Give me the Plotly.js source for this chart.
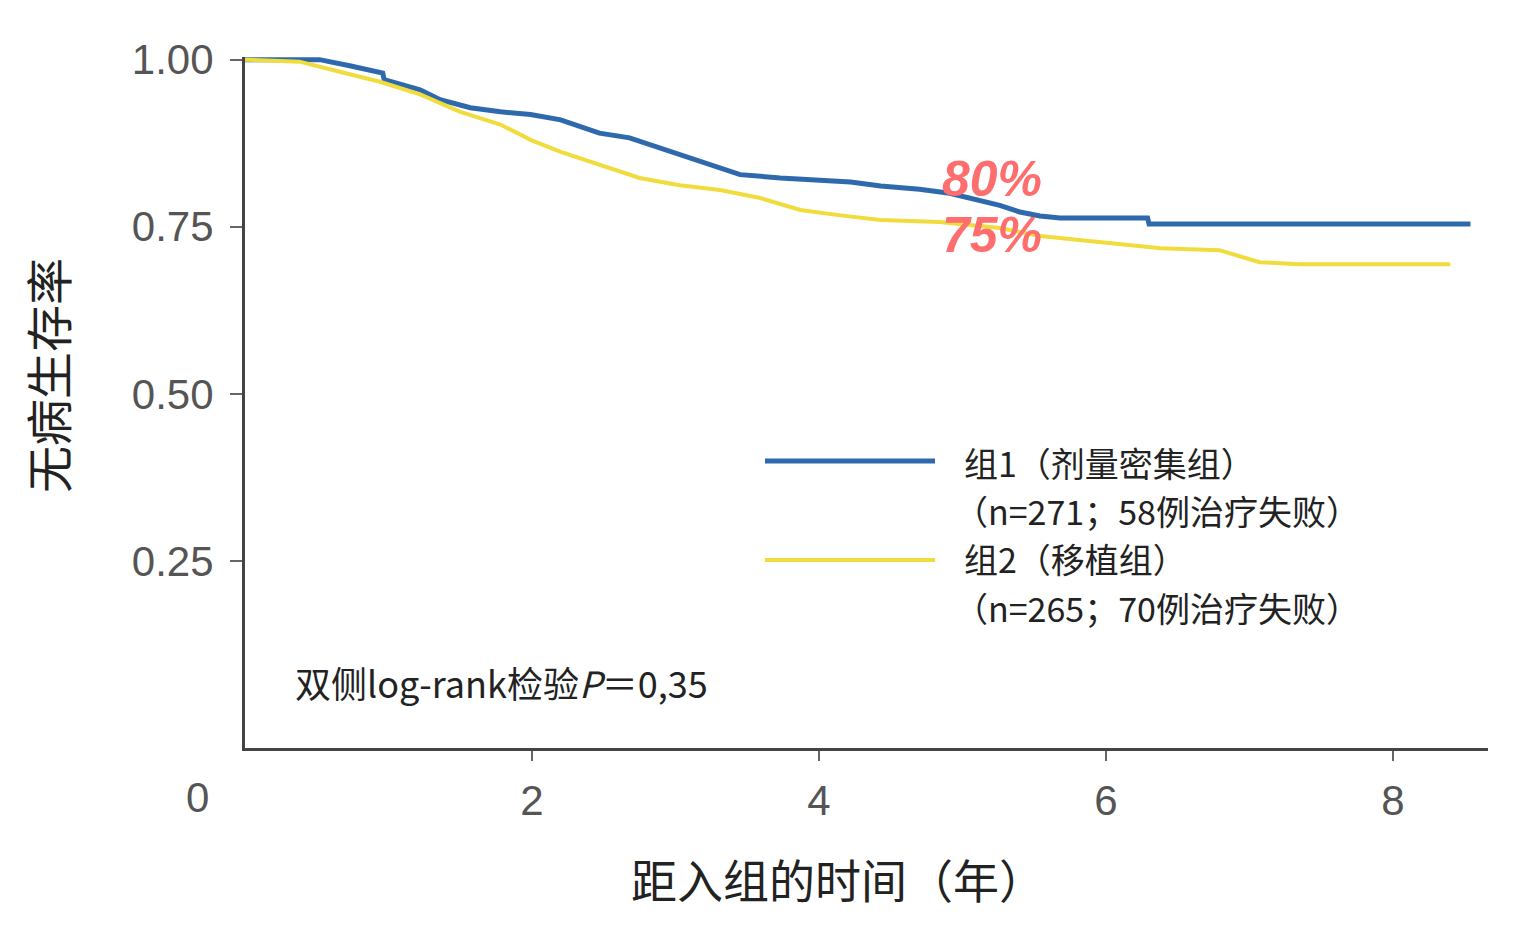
<!DOCTYPE html>
<html>
<head>
<meta charset="utf-8">
<script src="https://cdn.plot.ly/plotly-3.0.1.min.js"></script>
<style>html,body{margin:0;padding:0;background:#fff;}#chart{width:1518px;height:935px;}</style>
</head>
<body>
<div id="chart"></div>
<script>
// Group 1 (dose-dense) Kaplan-Meier readout
const g1Time = [0, 0.52, 0.73, 0.96, 0.97, 1.22, 1.36, 1.57, 1.78, 1.99, 2.20, 2.33, 2.47, 2.68, 2.89, 3.10, 3.31, 3.45, 3.73, 4.01, 4.22, 4.43, 4.70, 4.91, 5.12, 5.26, 5.40, 5.54, 5.68, 6.29, 6.30, 8.54];
const g1Surv = [1.0, 1.0, 0.991, 0.980, 0.970, 0.955, 0.940, 0.928, 0.922, 0.918, 0.910, 0.900, 0.890, 0.883, 0.868, 0.853, 0.838, 0.828, 0.823, 0.820, 0.817, 0.811, 0.806, 0.800, 0.790, 0.782, 0.772, 0.766, 0.763, 0.763, 0.754, 0.754];
// Group 2 (transplant)
const g2Time = [0, 0.38, 0.66, 0.94, 1.22, 1.50, 1.78, 1.99, 2.20, 2.47, 2.75, 3.03, 3.31, 3.59, 3.87, 4.15, 4.43, 4.84, 5.26, 5.54, 5.96, 6.38, 6.79, 7.07, 7.35, 8.40];
const g2Surv = [1.0, 0.997, 0.982, 0.967, 0.948, 0.922, 0.903, 0.880, 0.862, 0.843, 0.823, 0.812, 0.805, 0.793, 0.775, 0.767, 0.760, 0.757, 0.748, 0.736, 0.727, 0.718, 0.715, 0.697, 0.694, 0.694];

const xTicks = [2, 4, 6, 8];
const yTicks = [0.25, 0.50, 0.75, 1.00];
const yTickText = ["0.25", "0.50", "0.75", "1.00"];
const legendLines = ["组1（剂量密集组）", "（n=271；58例治疗失败）", "组2（移植组）", "（n=265；70例治疗失败）"];
const pText = "双侧log-rank检验<i>P</i>＝0,35";
const pctLabels = ["80%", "75%"];
const xTitle = "距入组的时间（年）";
const yTitle = "无病生存率";

// pixel -> paper helpers (plot area 245..1488 x, 57..748 y)
const L = 245, R = 1488, T = 57, B = 748;
const px = x => (x - L) / (R - L);
const py = y => (B - y) / (B - T);

const BLUE = "#2f69ad", YELLOW = "#f0dc3c";
const cjk = "'Noto Sans CJK SC', 'Liberation Sans', sans-serif";
const lat = "'Liberation Sans', sans-serif";

const traces = [
  {x: g1Time, y: g1Surv, mode: "lines", line: {color: BLUE, width: 5}, showlegend: false, hoverinfo: "skip"},
  {x: g2Time, y: g2Surv, mode: "lines", line: {color: YELLOW, width: 4}, showlegend: false, hoverinfo: "skip"}
];

const ann = [];
const legY = [462, 510, 558, 607];
const legX = [962, 952, 962, 952];
legendLines.forEach((t, i) => ann.push({xref: "paper", yref: "paper", x: px(legX[i]), y: py(legY[i]), xanchor: "left", yanchor: "middle", text: t, showarrow: false, font: {family: cjk, size: 34, color: "#222"}}));
ann.push({xref: "paper", yref: "paper", x: px(293), y: py(682), xanchor: "left", yanchor: "middle", text: pText, showarrow: false, font: {family: cjk, size: 36, color: "#222"}});
pctLabels.forEach((t, i) => ann.push({xref: "paper", yref: "paper", x: px(992), y: py([179, 235][i]), xanchor: "center", yanchor: "middle", text: "<b><i>" + t + "</i></b>", showarrow: false, font: {family: lat, size: 50, color: "#ff6e6e"}}));
ann.push({xref: "paper", yref: "paper", x: px(197), y: py(797), xanchor: "center", yanchor: "middle", text: "0", showarrow: false, font: {family: lat, size: 42, color: "#555"}});
ann.push({xref: "paper", yref: "paper", x: px(838), y: py(878), xanchor: "center", yanchor: "middle", text: xTitle, showarrow: false, font: {family: cjk, size: 46, color: "#222"}});
ann.push({xref: "paper", yref: "paper", x: px(46), y: py(376), xanchor: "center", yanchor: "middle", textangle: -90, text: yTitle, showarrow: false, font: {family: cjk, size: 47, color: "#222"}});

const shapes = [
  {type: "line", xref: "paper", yref: "paper", x0: px(765), x1: px(935), y0: py(461), y1: py(461), line: {color: BLUE, width: 5}},
  {type: "line", xref: "paper", yref: "paper", x0: px(765), x1: px(935), y0: py(560), y1: py(560), line: {color: YELLOW, width: 4}}
];

const layout = {
  width: 1518, height: 935,
  margin: {l: L, r: 1518 - R, t: T, b: 935 - B, pad: 0},
  paper_bgcolor: "#fff", plot_bgcolor: "#fff",
  xaxis: {
    range: [0, (R - L) / 143.5], showgrid: false, zeroline: false,
    showline: true, linecolor: "#444", linewidth: 3,
    tickmode: "array", tickvals: xTicks, ticktext: xTicks.map(String),
    ticks: "outside", ticklen: 10, tickwidth: 2, tickcolor: "#666",
    ticklabelstandoff: 4,
    tickfont: {family: lat, size: 42, color: "#555"}
  },
  yaxis: {
    range: [-0.03, 1.004], showgrid: false, zeroline: false,
    showline: true, linecolor: "#444", linewidth: 3,
    tickmode: "array", tickvals: yTicks, ticktext: yTickText,
    ticks: "outside", ticklen: 12, tickwidth: 2, tickcolor: "#666",
    ticklabelstandoff: 8,
    tickfont: {family: lat, size: 42, color: "#555"}
  },
  annotations: ann,
  shapes: shapes,
  showlegend: false
};

Plotly.newPlot("chart", traces, layout, {staticPlot: true, displayModeBar: false});
</script>
</body>
</html>
